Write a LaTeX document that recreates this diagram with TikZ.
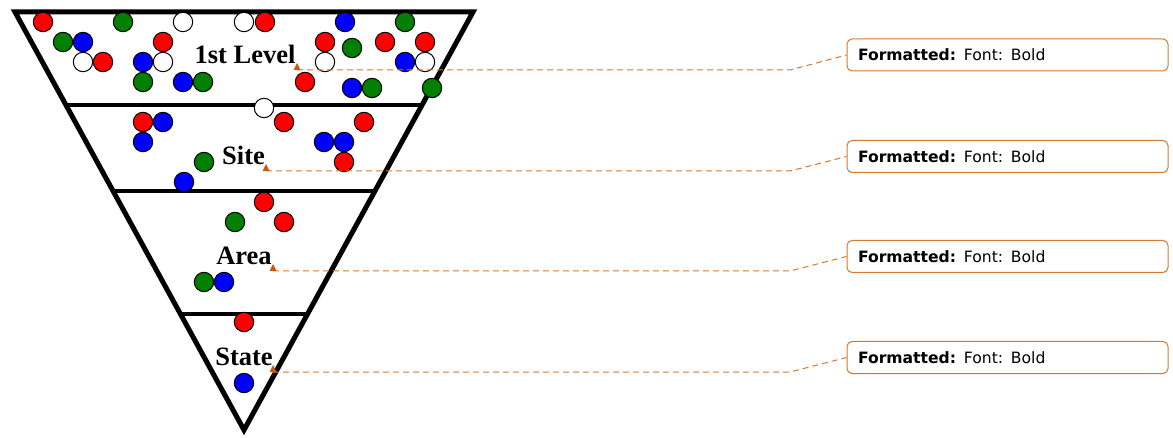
\documentclass[tikz,border=0pt]{standalone}
\usepackage{fontspec}
\setmainfont{Liberation Serif}
\newfontfamily\notefont{DejaVu Sans}
\definecolor{BallRed}{HTML}{FF0000}
\definecolor{BallGreen}{HTML}{007F00}
\definecolor{BallBlue}{HTML}{0000FF}
\definecolor{NoteOrange}{HTML}{D4782F}
\definecolor{MarkOrange}{HTML}{C55A11}
\usetikzlibrary{calc}

\begin{document}
\begin{tikzpicture}[x=1pt,y=-1pt,
    ball/.style={draw=black,line width=1pt,fill=#1},
    level/.style={font=\fontsize{26.5}{31}\selectfont\bfseries,inner sep=0pt},
    note/.style={draw=NoteOrange,rounded corners=5pt,line width=1pt,minimum height=32pt,
      inner xsep=11pt,inner ysep=0pt,text width=299pt,align=left,font=\notefont\fontsize{15.6}{18}\selectfont},
    link/.style={draw=NoteOrange,dash pattern=on 6pt off 4pt,line width=1pt}]
      \useasboundingbox (0,0) rectangle (1173,438);
      \coordinate (tl) at (15,12);
      \coordinate (tr) at (473,12);
      \coordinate (apex) at (244,430);
      \draw[line width=5pt] (tl)--(tr)--(apex)--cycle;
      \foreach \t in {0.2225,0.428,0.7225}
        \draw[line width=4pt] ($(tl)!\t!(apex)$)--($(tr)!\t!(apex)$);
      \foreach \x/\y/\c in {43/22/BallRed,123/22/BallGreen,183/22/white,244/22/white,265/22/BallRed,
          345/22/BallBlue,405/22/BallGreen,63/42/BallGreen,83/42/BallBlue,83/62/white,103/62/BallRed,
          163/42/BallRed,163/62/white,143/62/BallBlue,143/82/BallGreen,183/82/BallBlue,203/82/BallGreen,
          325/42/BallRed,352/48/BallGreen,385/42/BallRed,425/42/BallRed,325/62/white,425/62/white,
          405/62/BallBlue,305/82/BallRed,352/88/BallBlue,372/88/BallGreen,432/88/BallGreen,
          264/108/white,143/122/BallRed,163/122/BallBlue,143/142/BallBlue,284/122/BallRed,364/122/BallRed,
          324/142/BallBlue,344/142/BallBlue,344/162/BallRed,204/162/BallGreen,184/182/BallBlue,
          264/202/BallRed,235/222/BallGreen,284/222/BallRed,204/282/BallGreen,224/282/BallBlue,
          244/322/BallRed,244/383/BallBlue}
        \draw[ball=\c] (\x,\y) circle (9.7);
      \node[level] (lvl1) at (245,54) {1st Level};
      \node[level] (lvl2) at (243.5,155) {Site};
      \node[level] (lvl3) at (244,256) {Area};
      \node[level] (lvl4) at (244,357) {State};
      \node[note] (f1) at (1007.5,55) {\textbf{Formatted:} Font: Bold};
      \node[note] (f2) at (1007.5,156.5) {\textbf{Formatted:} Font: Bold};
      \node[note] (f3) at (1007.5,256.5) {\textbf{Formatted:} Font: Bold};
      \node[note] (f4) at (1007.5,357.5) {\textbf{Formatted:} Font: Bold};
      \coordinate (bend) at (790,0);
      \coordinate (m1) at (297,70);
      \coordinate (m2) at (266,171);
      \coordinate (m3) at (273,271);
      \coordinate (m4) at (273,372);
      \foreach \i in {1,2,3,4} {
        \draw[link] (m\i)--(m\i -| bend)--(f\i.west);
        \fill[MarkOrange] (m\i) ++(-3.5,0)--++(7,0)--++(-3.5,-7)--cycle;
      }
    \end{tikzpicture}
\end{document}
